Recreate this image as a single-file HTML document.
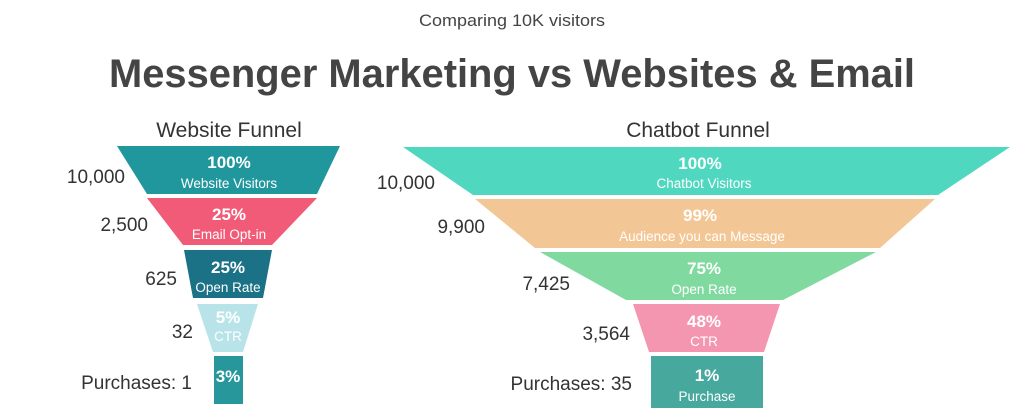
<!DOCTYPE html>
<html><head><meta charset="utf-8"><style>
html,body{margin:0;padding:0;background:#fff;}
svg{display:block;font-family:"Liberation Sans",sans-serif;}
.n{font-size:19px;fill:#333;text-anchor:end;}
.p{font-size:17px;font-weight:bold;fill:#fff;text-anchor:middle;}
.l{font-size:13.5px;fill:#fff;text-anchor:middle;}
.h{font-size:21px;fill:#333;text-anchor:middle;}
</style></head><body>
<svg width="1024" height="411" viewBox="0 0 1024 411">
<text x="512" y="26" font-size="17" fill="#444" text-anchor="middle" textLength="186" lengthAdjust="spacingAndGlyphs">Comparing 10K visitors</text>
<text x="512" y="87" font-size="40" font-weight="bold" fill="#444" text-anchor="middle" textLength="806" lengthAdjust="spacingAndGlyphs">Messenger Marketing vs Websites &amp; Email</text>

<text class="h" x="229" y="137">Website Funnel</text>
<polygon points="117,146 340,146 317,194 147,194" fill="#1f979d"/>
<polygon points="147,198 317,198 272,245 183,245" fill="#f15b77"/>
<polygon points="184,250 272,250 263,298 193,298" fill="#1b7286"/>
<polygon points="197,304 258,304 243,352 213,352" fill="#b8e4e9"/>
<rect x="214" y="356" width="29" height="48" fill="#27979c"/>
<text class="p" x="229" y="168">100%</text><text class="l" x="229" y="188">Website Visitors</text>
<text class="p" x="229" y="220">25%</text><text class="l" x="229" y="239" font-size="12.5">Email Opt-in</text>
<text class="p" x="228" y="273">25%</text><text class="l" x="228" y="292" font-size="12.5">Open Rate</text>
<text class="p" x="228" y="323" fill="#e8f7f9">5%</text><text class="l" x="228" y="341" font-size="10">CTR</text>
<text class="p" x="228" y="382" font-size="14">3%</text>
<text class="n" x="125" y="183">10,000</text>
<text class="n" x="148" y="231">2,500</text>
<text class="n" x="177" y="285">625</text>
<text class="n" x="193" y="338">32</text>
<text class="n" x="192" y="389">Purchases: 1</text>

<text class="h" x="698" y="137">Chatbot Funnel</text>
<polygon points="403,147 1010,147 938,195 473,195" fill="#4fd8bf"/>
<polygon points="475,199 935,199 880,248 535,248" fill="#f3c795"/>
<polygon points="540,252 876,252 783,300 626,300" fill="#80daa0"/>
<polygon points="633,304 780,304 764,352 649,352" fill="#f596b1"/>
<rect x="651" y="356" width="112" height="52" fill="#47a89d"/>
<text class="p" x="700" y="169">100%</text><text class="l" x="704" y="188">Chatbot Visitors</text>
<text class="p" x="700" y="221">99%</text><text class="l" x="702" y="241">Audience you can Message</text>
<text class="p" x="704" y="274">75%</text><text class="l" x="704" y="294">Open Rate</text>
<text class="p" x="704" y="327">48%</text><text class="l" x="704" y="346">CTR</text>
<text class="p" x="707" y="381">1%</text><text class="l" x="707" y="401">Purchase</text>
<text class="n" x="435" y="189">10,000</text>
<text class="n" x="485" y="233">9,900</text>
<text class="n" x="570" y="290">7,425</text>
<text class="n" x="630" y="340">3,564</text>
<text class="n" x="632" y="390">Purchases: 35</text>
</svg>
</body></html>
